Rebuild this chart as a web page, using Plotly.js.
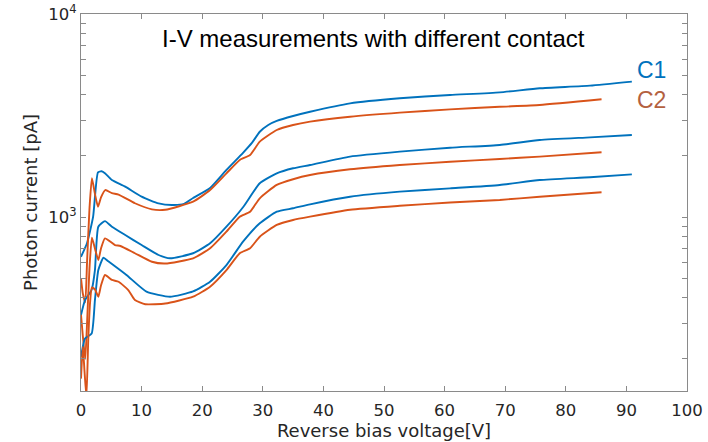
<!DOCTYPE html>
<html>
<head>
<meta charset="utf-8">
<script src="https://cdn.plot.ly/plotly-3.0.1.min.js"></script>
<style>html,body{margin:0;padding:0;background:#fff;}#chart{width:708px;height:442px;}</style>
</head>
<body>
<div id="chart"></div>
<script>
// ---- data ----
const c1TopX = [0, 1, 2, 2.8, 3.4, 4.0, 5.1, 7.3, 10, 12.8, 15, 17, 18.5, 21.3, 24, 26.7, 28.2, 29.5, 30.9, 32.3, 35, 37.8, 44.4, 52.6, 60.9, 69.1, 75.7, 84, 90.9];
const c1TopY = [637, 745, 1004, 1660, 1680, 1640, 1521, 1411, 1259, 1168, 1146, 1160, 1241, 1390, 1706, 2066, 2317, 2630, 2840, 2972, 3145, 3300, 3631, 3846, 3990, 4113, 4305, 4436, 4645];

const c2TopX = [0, 0.3, 0.7, 1.0, 1.4, 1.8, 2.3, 2.8, 3.3, 4.0, 5.1, 6.2, 8.9, 11.7, 13.9, 18.5, 21.3, 24, 26.2, 27.9, 29.5, 32.3, 35, 37.8, 44.4, 52.6, 60.9, 69.1, 75.7, 85.9];
const c2TopY = [500, 420, 380, 600, 1100, 1552, 1300, 1124, 1250, 1358, 1310, 1290, 1169, 1091, 1086, 1190, 1358, 1641, 1910, 2019, 2350, 2683, 2840, 2950, 3119, 3266, 3390, 3491, 3563, 3800];

const c1MidX = [0, 0.66, 1.75, 2.3, 2.86, 3.96, 5.1, 7.3, 10, 12.8, 14.7, 18.5, 21.3, 24, 26.8, 29.5, 32.3, 35, 37.8, 44.4, 52.6, 60.9, 69.1, 75.7, 84, 90.9];
const c1MidY = [329, 390, 437, 548, 896, 955, 896, 815, 728, 650, 626, 663, 742, 896, 1124, 1466, 1641, 1738, 1804, 1984, 2099, 2195, 2265, 2394, 2469, 2535];

const c2MidX = [0, 0.3, 0.7, 1.0, 1.4, 1.8, 2.3, 2.86, 3.3, 3.96, 5.6, 6.5, 8.9, 11.7, 13.9, 18.5, 21.3, 24, 26.2, 27.9, 29.5, 32.3, 35, 37.8, 44.4, 52.6, 60.9, 69.1, 75.7, 85.9];
const c2MidY = [330, 260, 200, 300, 560, 790, 700, 614, 700, 785, 728, 720, 663, 602, 590, 626, 701, 847, 1004, 1062, 1236, 1439, 1535, 1610, 1718, 1804, 1871, 1932, 1984, 2083];

const c1LowX = [0, 0.66, 1.76, 2.3, 2.86, 3.7, 4.5, 7.5, 10.8, 14.7, 18.5, 21.3, 24, 26.8, 29.5, 32.3, 35, 37.8, 44.4, 52.6, 60.9, 69.1, 75.7, 84, 90.9];
const c1LowY = [205, 252, 267, 390, 548, 630, 605, 518, 429, 405, 430, 480, 580, 760, 931, 1062, 1104, 1155, 1259, 1333, 1384, 1439, 1521, 1570, 1622];

const c2LowX = [0, 0.3, 0.6, 0.9, 1.2, 1.5, 1.8, 2.3, 2.86, 3.3, 3.96, 5.1, 6.2, 7.8, 8.9, 10.6, 13.9, 18.5, 21.3, 24, 26.2, 27.9, 29.5, 32.3, 35, 37.8, 44.4, 52.6, 60.9, 69.1, 75.7, 85.9];
const c2LowY = [160, 230, 170, 130, 250, 380, 450, 440, 405, 460, 518, 490, 480, 437, 390, 372, 375, 405, 454, 548, 663, 701, 800, 914, 967, 1004, 1086, 1136, 1178, 1213, 1259, 1324];

const xTicks = [0, 10, 20, 30, 40, 50, 60, 70, 80, 90, 100];
const yTickVals = [200, 300, 400, 500, 600, 700, 800, 900, 1000, 2000, 3000, 4000, 5000, 6000, 7000, 8000, 9000, 10000];
const yTickText = ['', '', '', '', '', '', '', '', '10<sup>3</sup>', '', '', '', '', '', '', '', '', '10<sup>4</sup>'];

const titleText = 'I-V measurements with different contact';
const xTitle = 'Reverse bias voltage[V]';
const yTitle = 'Photon current [pA]';

// ---- styling ----
const BLUE = '#0072BD';
const ORANGE = '#D95319';
const lineW = 1.9;

function tr(x, y, color, name) {
  return {x: x, y: y, type: 'scatter', mode: 'lines', name: name,
          line: {color: color, width: lineW, shape: 'spline', smoothing: 0.5}, hoverinfo: 'skip'};
}

const traces = [
  tr(c1TopX, c1TopY, BLUE, 'C1'),
  tr(c2TopX, c2TopY, ORANGE, 'C2'),
  tr(c1MidX, c1MidY, BLUE, 'C1'),
  tr(c2MidX, c2MidY, ORANGE, 'C2'),
  tr(c1LowX, c1LowY, BLUE, 'C1'),
  tr(c2LowX, c2LowY, ORANGE, 'C2')
];

const axisCol = '#8a8a8a';
const textCol = '#262626';
const tickFont = {family: 'DejaVu Sans', size: 16.5, color: textCol};

const layout = {
  width: 708, height: 442,
  margin: {l: 81, r: 21, t: 14, b: 51},
  paper_bgcolor: '#ffffff', plot_bgcolor: '#ffffff',
  showlegend: false,
  xaxis: {
    range: [0, 100], tickvals: xTicks, ticks: 'inside', ticklen: 5, tickcolor: axisCol,
    showline: true, linecolor: axisCol, linewidth: 1, mirror: 'ticks',
    showgrid: false, zeroline: false, tickfont: tickFont, ticklabelstandoff: 4,
    title: {text: xTitle, font: {family: 'DejaVu Sans', size: 18, color: textCol}, standoff: 2}
  },
  yaxis: {
    type: 'log', range: [Math.log10(139), 4],
    tickvals: yTickVals, ticktext: yTickText, ticks: 'inside', ticklen: 5, tickcolor: axisCol,
    showline: true, linecolor: axisCol, linewidth: 1, mirror: 'ticks',
    showgrid: false, zeroline: false, tickfont: tickFont,
    title: {text: yTitle, font: {family: 'DejaVu Sans', size: 18, color: textCol}, standoff: 6}
  },
  annotations: [
    {text: titleText, xref: 'x', yref: 'paper', x: 48.2, y: 0.936, showarrow: false,
     xanchor: 'center', yanchor: 'middle', font: {family: 'Liberation Sans', size: 24, color: '#000000'}},
    {text: 'C1', xref: 'x', yref: 'paper', x: 94.2, y: 0.851, showarrow: false,
     xanchor: 'center', yanchor: 'middle', font: {family: 'Liberation Sans', size: 23, color: BLUE}},
    {text: 'C2', xref: 'x', yref: 'paper', x: 94.2, y: 0.772, showarrow: false,
     xanchor: 'center', yanchor: 'middle', font: {family: 'Liberation Sans', size: 23, color: '#B4613F'}}
  ]
};

Plotly.newPlot('chart', traces, layout, {staticPlot: true, displayModeBar: false});
</script>
</body>
</html>
